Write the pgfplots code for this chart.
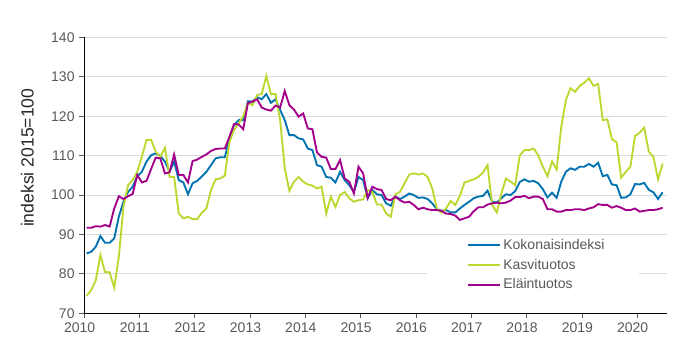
\documentclass[border=0pt]{standalone}
\usepackage{pgfplots}
\usepackage{pgfplotstable}
\pgfplotsset{compat=1.18}
\usepackage{fontspec}
\setmainfont{Liberation Sans}
\definecolor{cblue}{RGB}{0,115,176}
\definecolor{cgreen}{RGB}{190,215,48}
\definecolor{cmag}{RGB}{162,0,138}
\definecolor{cgrid}{RGB}{218,218,218}
\definecolor{ctick}{RGB}{89,89,89}

\pgfplotstableread{
i b g m
0 85.2 74.4 91.7
1 85.6 75.9 91.7
2 86.9 78.4 92.1
3 89.6 84.8 92.0
4 87.9 80.5 92.4
5 87.9 80.4 92.0
6 89.0 76.5 96.6
7 94.5 84.4 99.7
8 98.3 97.0 99.0
9 100.8 102.5 99.7
10 102.1 103.8 100.3
11 104.8 105.9 105.1
12 105.9 109.7 103.2
13 108.5 114.0 103.6
14 110.1 114.0 106.6
15 110.6 111.0 109.5
16 109.9 109.7 109.3
17 108.5 112.0 105.5
18 105.9 104.6 105.8
19 108.5 104.6 110.3
20 103.8 95.3 105.1
21 103.2 94.1 105.1
22 100.2 94.5 103.2
23 103.0 93.9 108.6
24 103.6 93.9 109.0
25 104.7 95.5 109.7
26 105.9 96.6 110.3
27 107.6 101.3 111.2
28 109.3 104.0 111.7
29 109.6 104.2 111.8
30 109.6 104.9 111.8
31 114.4 113.5 114.8
32 117.8 116.5 118.0
33 119.0 118.2 117.9
34 119.0 120.0 116.7
35 123.8 123.4 123.3
36 123.7 122.8 123.7
37 124.8 125.4 124.3
38 124.3 125.6 122.2
39 125.6 130.2 121.7
40 123.4 125.6 121.4
41 124.3 125.6 122.7
42 121.6 119.0 122.2
43 119.0 106.8 126.4
44 115.2 101.1 122.8
45 115.2 103.4 121.7
46 114.4 104.6 119.9
47 114.1 103.4 120.7
48 111.8 102.7 116.9
49 111.4 102.4 116.7
50 107.6 101.7 110.8
51 107.2 102.1 109.7
52 104.6 95.3 109.5
53 104.4 99.6 106.6
54 103.2 97.0 106.6
55 105.9 100.0 108.9
56 103.8 100.8 104.2
57 102.5 99.2 103.4
58 100.8 98.3 100.4
59 104.6 98.7 107.2
60 103.8 98.9 105.5
61 99.2 101.3 99.3
62 101.3 100.8 102.1
63 100.2 97.6 101.5
64 100.0 97.6 101.3
65 97.9 95.3 99.0
66 97.3 94.5 98.7
67 99.6 100.2 99.6
68 99.0 100.8 98.7
69 99.6 103.0 98.1
70 100.4 105.2 98.3
71 100.0 105.5 97.5
72 99.3 105.2 96.4
73 99.4 105.5 96.8
74 99.0 104.6 96.4
75 97.9 101.7 96.2
76 96.4 96.6 96.2
77 96.0 95.5 96.0
78 96.2 96.6 95.3
79 95.6 98.5 95.2
80 95.6 97.5 94.8
81 96.6 99.8 93.7
82 97.5 103.2 94.1
83 98.3 103.6 94.5
84 99.2 104.0 95.9
85 99.6 104.6 96.9
86 99.8 105.7 96.9
87 101.1 107.6 97.6
88 98.3 97.5 97.9
89 98.1 95.6 98.1
90 99.2 100.4 97.9
91 100.2 104.2 98.1
92 100.0 103.4 98.6
93 101.0 102.5 99.5
94 103.3 110.1 99.5
95 104.0 111.4 99.8
96 103.4 111.4 99.2
97 103.6 111.8 99.6
98 103.0 110.1 99.6
99 101.5 107.2 99.0
100 99.4 104.8 96.4
101 100.6 108.5 96.4
102 99.3 106.5 95.8
103 103.4 117.3 95.8
104 105.9 124.1 96.2
105 106.8 127.1 96.2
106 106.4 126.2 96.4
107 107.2 127.7 96.4
108 107.2 128.5 96.2
109 107.9 129.6 96.6
110 107.2 127.7 96.9
111 108.2 128.2 97.7
112 104.8 119.0 97.5
113 105.1 119.2 97.5
114 102.7 114.2 96.8
115 102.5 113.4 97.2
116 99.3 104.4 96.8
117 99.4 105.9 96.2
118 100.2 107.2 96.2
119 102.8 115.0 96.6
120 102.7 115.8 95.8
121 103.1 117.1 96.0
122 101.3 111.0 96.2
123 100.7 109.7 96.2
124 99.0 104.0 96.4
125 100.7 108.0 96.8
}\data

\begin{document}
\begin{tikzpicture}
\path[use as bounding box] (-63.2pt,-36.5pt) rectangle (452pt,235pt);
\begin{axis}[
  at={(0,0)}, anchor=south west,
  scale only axis, width=437pt, height=207pt,
  xmin=-0.5, xmax=125.94, ymin=70, ymax=140,
  ytick={70,80,...,140},
  xtick={-0.5,11.5,...,119.5},
  xticklabels={2010,2011,2012,2013,2014,2015,2016,2017,2018,2019,2020},
  axis x line*=bottom, axis y line*=left,
  axis line style={-, black, line width=0.8pt},
  tick align=outside, major tick length=3.75pt,
  tick style={ctick, line width=0.75pt},
  ymajorgrids, grid style={cgrid, line width=0.75pt},
  /pgf/number format/assume math mode=true,
  ticklabel style={font=\fontsize{10.5}{12}\selectfont, text=ctick},
  xticklabel style={xshift=-3.5pt},
  ylabel={indeksi 2015=100},
  ylabel style={at={(axis description cs:-0.0975,0.564)}, anchor=center, font=\fontsize{13.2}{15}\selectfont, text=black!85},
  legend cell align=left,
  legend image code/.code={\draw[#1, line width=1.4pt] (0pt,0pt) -- (24pt,0pt);},
  legend style={at={(rel axis cs:0.656,0.274)}, anchor=north west, draw=none, fill=none,
    font=\fontsize{10.5}{12}\selectfont, text=ctick, inner sep=0pt, row sep=3.6pt,
    nodes={inner sep=1pt}},
  /tikz/every odd column/.append style={column sep=1pt},
]
\fill[white] (rel axis cs:0.588,0.077) rectangle (rel axis cs:0.952,0.280);
\addplot[cblue, line width=1.4pt, no marks] table[x=i, y=b] {\data};
\addlegendentry{Kokonaisindeksi}
\addplot[cgreen, line width=1.4pt, no marks] table[x=i, y=g] {\data};
\addlegendentry{Kasvituotos}
\addplot[cmag, line width=1.4pt, no marks] table[x=i, y=m] {\data};
\addlegendentry{Eläintuotos}
\end{axis}
\end{tikzpicture}
\end{document}
